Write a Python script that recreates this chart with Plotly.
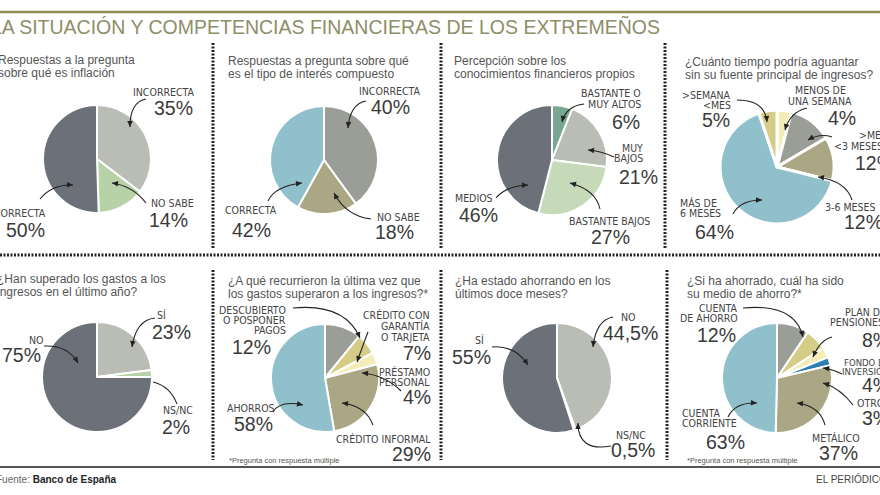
import plotly.graph_objects as go
import math

W, H = 880, 495

# ---------------- DATA ----------------
title_text = "LA SITUACIÓN Y COMPETENCIAS FINANCIERAS DE LOS EXTREMEÑOS"
source_label = "Fuente:"
source_name = "Banco de España"
publisher = "EL PERIÓDICO"
footnote = "*Pregunta con respuesta múltiple"

panel_titles = [
    "Respuestas a la pregunta\nsobre qué es inflación",
    "Respuestas a pregunta sobre qué\nes el tipo de interés compuesto",
    "Percepción sobre los\nconocimientos financieros propios",
    "¿Cuánto tiempo podría aguantar\nsin su fuente principal de ingresos?",
    "¿Han superado los gastos a los\ningresos en el último año?",
    "¿A qué recurrieron la última vez que\nlos gastos superaron a los ingresos?*",
    "¿Ha estado ahorrando en los\núltimos doce meses?",
    "¿Si ha ahorrado, cuál ha sido\nsu medio de ahorro?*",
]

p1_categories = ["INCORRECTA", "NO SABE", "CORRECTA"]
p1_values = [35, 14, 50]

p2_categories = ["INCORRECTA", "NO SABE", "CORRECTA"]
p2_values = [40, 18, 42]

p3_categories = ["BASTANTE O\nMUY ALTOS", "MUY\nBAJOS", "BASTANTE BAJOS", "MEDIOS"]
p3_values = [6, 21, 27, 46]

p4_categories = ["MENOS DE\nUNA SEMANA", ">MES\n<3 MESES", "3-6 MESES", "MÁS DE\n6 MESES", ">SEMANA\n<MES"]
p4_values = [4, 12, 12, 64, 5]

p5_categories = ["SÍ", "NS/NC", "NO"]
p5_values = [23, 2, 75]

p6_categories = ["DESCUBIERTO\nO POSPONER\nPAGOS", "CRÉDITO CON\nGARANTÍA\nO TARJETA",
                 "PRÉSTAMO\nPERSONAL", "CRÉDITO INFORMAL", "AHORROS"]
p6_values = [12, 7, 4, 29, 58]

p7_categories = ["NO", "NS/NC", "SÍ"]
p7_values = [44.5, 0.5, 55]

p8_categories = ["CUENTA\nDE AHORRO", "PLAN DE\nPENSIONES", "FONDO DE\nINVERSIÓN", "OTROS",
                 "METÁLICO", "CUENTA\nCORRIENTE"]
p8_values = [12, 8, 4, 3, 37, 63]

data_sets = [
    (p1_categories, p1_values), (p2_categories, p2_values),
    (p3_categories, p3_values), (p4_categories, p4_values),
    (p5_categories, p5_values), (p6_categories, p6_values),
    (p7_categories, p7_values), (p8_categories, p8_values),
]

# ---------------- STYLE / LAYOUT ----------------
DARK = "#6c7179"
LGRAY = "#b9bdb3"
LGREEN = "#b8d2a8"
PGREEN = "#c6d9b8"
TEAL = "#79a791"
MGRAY = "#9b9e96"
OLIVE = "#aba683"
BLUE = "#8fc0cc"
OYEL = "#d5cc88"
PYEL = "#f4edb7"
DBLUE = "#2b7fb2"

SANS = "Liberation Sans, Arial, sans-serif"
NARROW = "Liberation Sans Narrow, Arial Narrow, DejaVu Sans Condensed, sans-serif"

layouts = [
    dict(c=(97, 159), r=54, lw=2, colors=[LGRAY, LGREEN, DARK], title=(-4, [60, 73]), items=[
        dict(lines=[(197, 92, 'right')], pct=(195, 108, 'right'), arrow=(146, 99, 130, 102, 130, 127)),
        dict(lines=[(149, 203, 'left')], pct=(147, 220, 'left'), arrow=(146, 203, 133, 186, 112, 183)),
        dict(lines=[(48, 213, 'right')], pct=(47, 230, 'right'), arrow=(40, 199, 52, 184, 73, 185)),
    ]),
    dict(c=(324, 160), r=54, lw=2, colors=[MGRAY, OLIVE, BLUE], title=(226, [61, 74]), items=[
        dict(lines=[(423, 91, 'right')], pct=(412, 107, 'right'), arrow=(366, 101, 350, 104, 348, 128)),
        dict(lines=[(375, 217, 'left')], pct=(373, 232, 'left'), arrow=(371, 219, 346, 216, 334, 193)),
        dict(lines=[(223, 210, 'left')], pct=(230, 230, 'left'), arrow=(268, 201, 275, 186, 302, 183)),
    ]),
    dict(c=(552, 160), r=55, lw=2, colors=[TEAL, LGRAY, PGREEN, DARK], title=(452, [61, 74]), items=[
        dict(lines=[(643, 93, 'right'), (643, 104, 'right')], pct=(642, 122, 'right'), arrow=(584, 104, 566, 106, 562, 122)),
        dict(lines=[(645, 148, 'right'), (645, 158, 'right')], pct=(660, 177, 'right'), arrow=(614, 157, 601, 151, 588, 150)),
        dict(lines=[(652, 221, 'right')], pct=(632, 237, 'right'), arrow=(600, 209, 596, 190, 570, 183)),
        dict(lines=[(495, 198, 'right')], pct=(500, 215, 'right'), arrow=(496, 198, 506, 186, 528, 185)),
    ]),
    dict(c=(777, 167), r=57, lw=3, colors=[PYEL, MGRAY, OLIVE, BLUE, OYEL], title=(683, [62, 75]), items=[
        dict(lines=[(820, 90, 'center'), (820, 101, 'center')], pct=(858, 118, 'right'), arrow=(807, 108, 790, 112, 785, 130)),
        dict(lines=[(857, 135, 'left'), (832, 146, 'left')], pct=(853, 163, 'left'), arrow=(832, 137, 820, 133, 808, 140)),
        dict(lines=[(823, 207, 'left')], pct=(842, 222, 'left'), arrow=(852, 200, 846, 181, 818, 177)),
        dict(lines=[(678, 203, 'left'), (678, 213, 'left')], pct=(693, 232, 'left'), arrow=(733, 214, 740, 200, 762, 200)),
        dict(lines=[(733, 95, 'right'), (733, 105, 'right')], pct=(732, 120, 'right'), arrow=(737, 100, 765, 100, 767, 122)),
    ]),
    dict(c=(97, 377), r=55, lw=2, colors=[LGRAY, LGREEN, DARK], title=(-5, [279, 292]), items=[
        dict(lines=[(161, 315, 'center')], pct=(193, 332, 'right'), arrow=(155, 318, 136, 320, 132, 347)),
        dict(lines=[(195, 410, 'right')], pct=(192, 427, 'right'), arrow=(177, 404, 170, 386, 153, 382), head=False),
        dict(lines=[(36, 340, 'center')], pct=(43, 355, 'right'), arrow=(44, 346, 68, 345, 78, 363)),
    ]),
    dict(c=(325, 378), r=54, lw=2, colors=[MGRAY, OYEL, PYEL, OLIVE, BLUE], title=(226, [281, 294]), note=(227, 460), items=[
        dict(lines=[(288, 310, 'right'), (288, 320, 'right'), (288, 330, 'right')], pct=(273, 347, 'right'), arrow=(293, 308, 345, 303, 360, 338)),
        dict(lines=[(432, 315, 'right'), (432, 326, 'right'), (432, 337, 'right')], pct=(433, 353, 'right'), arrow=(368, 332, 363, 345, 357, 362)),
        dict(lines=[(432, 372, 'right'), (432, 382, 'right')], pct=(433, 397, 'right'), arrow=(401, 391, 385, 375, 362, 373)),
        dict(lines=[(433, 439, 'right')], pct=(433, 454, 'right'), arrow=(373, 425, 366, 406, 342, 403)),
        dict(lines=[(225, 408, 'left')], pct=(232, 424, 'left'), arrow=(273, 412, 280, 400, 303, 405)),
    ]),
    dict(c=(557, 378), r=55, lw=2, colors=[LGRAY, LGREEN, DARK], title=(453, [281, 294]), items=[
        dict(lines=[(628, 317, 'center')], pct=(660, 333, 'right'), arrow=(613, 317, 596, 320, 593, 347)),
        dict(lines=[(648, 435, 'right')], pct=(657, 450, 'right'), arrow=(611, 446, 578, 452, 578, 423)),
        dict(lines=[(480, 340, 'center')], pct=(493, 357, 'right'), arrow=(492, 347, 515, 345, 528, 365)),
    ]),
    dict(c=(777, 378), r=55, lw=2, colors=[MGRAY, OYEL, PYEL, DBLUE, OLIVE, BLUE], title=(685, [281, 294]), note=(685, 460), items=[
        dict(lines=[(740, 308, 'right'), (740, 318, 'right')], pct=(738, 335, 'right'), arrow=(743, 308, 795, 303, 803, 337)),
        dict(lines=[(843, 312, 'left'), (828, 322, 'left')], pct=(860, 340, 'left'), arrow=(832, 337, 820, 340, 813, 357)),
        dict(lines=[(842, 362, 'left'), (840, 371, 'left')], pct=(860, 385, 'left'), arrow=(842, 374, 832, 369, 823, 368), size=9.5),
        dict(lines=[(855, 403, 'left')], pct=(860, 418, 'left'), arrow=(853, 405, 840, 388, 823, 383)),
        dict(lines=[(862, 438, 'right')], pct=(860, 453, 'right'), arrow=(825, 425, 820, 406, 797, 403)),
        dict(lines=[(680, 413, 'left'), (680, 423, 'left')], pct=(747, 442, 'right'), arrow=(728, 417, 735, 402, 757, 403)),
    ]),
]


def px(x):
    return x / W


def py(y):
    return 1 - y / H


def esc(s):
    return s.replace("<", "&lt;").replace(">", "&gt;")


def fmt_pct(v):
    return f"{v:g}".replace(".", ",") + "%"


fig = go.Figure()
annotations = []
shapes = []


def add_text(x, y, text, size, color, anchor="left", family=SANS):
    annotations.append(dict(
        x=px(x), y=py(y), xref="paper", yref="paper", text=text, showarrow=False,
        xanchor=anchor, yanchor="middle", font=dict(size=size, color=color, family=family),
    ))


for (cats, vals), lay, ptitle in zip(data_sets, layouts, panel_titles):
    cx, cy = lay["c"]
    r = lay["r"]
    fig.add_trace(go.Pie(
        labels=[c.replace("\n", " ") for c in cats], values=vals,
        domain=dict(x=[px(cx - r), px(cx + r)], y=[py(cy + r), py(cy - r)]),
        sort=False, direction="clockwise", rotation=0,
        marker=dict(colors=lay["colors"], line=dict(color="white", width=lay["lw"])),
        textinfo="none", hoverinfo="label+value", showlegend=False,
    ))
    tx, tys = lay["title"]
    for line, ty in zip(ptitle.split("\n"), tys):
        add_text(tx, ty, line, 12, "#555555")
    if "note" in lay:
        add_text(lay["note"][0], lay["note"][1], footnote, 7.5, "#555555")
    for cat, val, it in zip(cats, vals, lay["items"]):
        for line, (lx, ly, anc) in zip(cat.split("\n"), it["lines"]):
            add_text(lx, ly, esc(line), it.get("size", 10.5), "#444444", anc, NARROW)
        ppx, ppy, panc = it["pct"]
        add_text(ppx, ppy, fmt_pct(val), 19.5, "#3a3a3a", panc)
        x0, y0, qx, qy, x1, y1 = it["arrow"]
        shapes.append(dict(type="path", xref="paper", yref="paper",
                           path=f"M {px(x0)},{py(y0)} Q {px(qx)},{py(qy)} {px(x1)},{py(y1)}",
                           line=dict(color="#222222", width=1.1)))
        if it.get("head", True):
            dx, dy = x1 - qx, y1 - qy
            n = math.hypot(dx, dy) or 1
            ux, uy = dx / n, dy / n
            L, w = 6, 2.8
            bx, by = x1 - ux * L, y1 - uy * L
            p1 = (bx - uy * w, by + ux * w)
            p2 = (bx + uy * w, by - ux * w)
            shapes.append(dict(type="path", xref="paper", yref="paper",
                               path=f"M {px(x1)},{py(y1)} L {px(p1[0])},{py(p1[1])} L {px(p2[0])},{py(p2[1])} Z",
                               fillcolor="#222222", line=dict(width=0)))

# frame lines
shapes.append(dict(type="line", xref="paper", yref="paper", x0=0, x1=1, y0=py(12), y1=py(12),
                   line=dict(color="#8b8c52", width=2.5)))
shapes.append(dict(type="line", xref="paper", yref="paper", x0=0, x1=1, y0=py(255), y1=py(255),
                   line=dict(color="#222222", width=3, dash="2px,1.5px")))
for vx, ya, yb in [(213, 43, 248), (441, 43, 248), (665, 43, 248),
                   (213, 270, 460), (441, 270, 460), (667, 270, 460)]:
    shapes.append(dict(type="line", xref="paper", yref="paper", x0=px(vx), x1=px(vx), y0=py(ya), y1=py(yb),
                       line=dict(color="#222222", width=3, dash="2px,1.5px")))
shapes.append(dict(type="line", xref="paper", yref="paper", x0=0, x1=1, y0=py(467), y1=py(467),
                   line=dict(color="#555555", width=2)))

# header / footer
add_text(-11, 26, title_text, 19.5, "#8e8e68")
add_text(-6, 479, f"<span style='color:#666666'>{source_label}</span> <b>{source_name}</b>", 10, "#222222")
add_text(814, 479, publisher, 10, "#444444")

fig.update_layout(
    width=W, height=H, margin=dict(l=0, r=0, t=0, b=0),
    paper_bgcolor="white", plot_bgcolor="white",
    annotations=annotations, shapes=shapes,
)

fig.write_html("out.html", config={"displayModeBar": False},
               post_script="document.body.style.margin='0';document.body.style.overflow='hidden';")
